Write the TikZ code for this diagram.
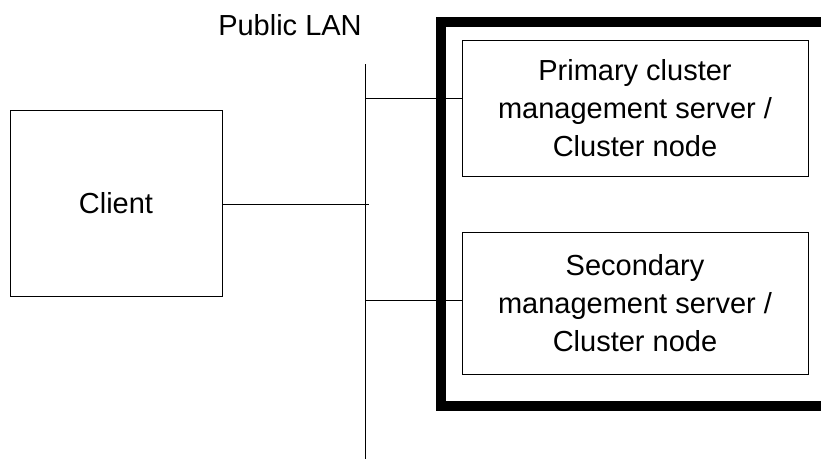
\documentclass[tikz,border=0pt]{standalone}
\usepackage{fontspec}
\setmainfont{Liberation Sans}
\usetikzlibrary{calc}

\begin{document}
\begin{tikzpicture}[x = 1pt, y = -1pt,
	box/.style = {draw, line width = 1pt, inner sep = 0pt, align = center, font = \fontsize{29}{38}\selectfont},
	wire/.style = {line width = 1pt}]
	\useasboundingbox (0,0) rectangle (821,459);
	\clip (0,0) rectangle (821,459);

	\draw [line width = 10pt] (441,22) rectangle (826,406);

	\node [box, minimum width = 212pt, minimum height = 186pt] (client) at (116,203) {Client};
	\node [box, minimum width = 346pt, minimum height = 136pt] (primary) at (635,108) {Primary cluster\\management server /\\Cluster node};
	\node [box, minimum width = 346pt, minimum height = 142pt] (secondary) at (635,303) {Secondary\\management server /\\Cluster node};

	\node [anchor = base, font = \fontsize{29}{38}\selectfont] (lanlabel) at (290,35) {Public LAN};

	\coordinate (lantop) at (365,64);
	\coordinate (lanbot) at (365,459);
	\coordinate (tapclient) at (369,204);
	\coordinate (tapprimary) at (365,98);
	\coordinate (tapsecondary) at (365,300);

	\draw [wire] (lantop) -- (lanbot);
	\draw [wire] (client.east |- tapclient) -- (tapclient);
	\draw [wire] (tapprimary) -- (tapprimary -| primary.west);
	\draw [wire] (tapsecondary) -- (tapsecondary -| secondary.west);
\end{tikzpicture}
\end{document}
